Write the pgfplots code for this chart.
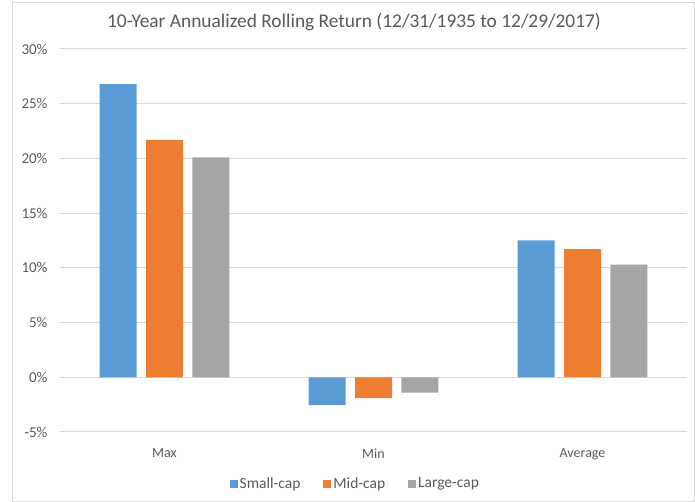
\documentclass[border=0pt]{standalone}
\usepackage{pgfplots}
\pgfplotsset{compat=1.18}
\usepackage{fontspec}
\setmainfont{Carlito}
\definecolor{cblue}{HTML}{5B9BD5}
\definecolor{corange}{HTML}{ED7D31}
\definecolor{cgray}{HTML}{A5A5A5}
\definecolor{txt}{HTML}{595959}
\definecolor{gridc}{HTML}{D9D9D9}
\begin{document}
\begin{tikzpicture}[x=1pt,y=1pt]
\path[use as bounding box] (0,0) rectangle (695,502);
\draw[gridc, line width=0.8pt] (12,1) rectangle (694,500);
\node[text=txt, font=\fontsize{19.4}{23}\selectfont] at (354,480) {10-Year Annualized Rolling Return (12/31/1935 to 12/29/2017)};
\begin{axis}[at={(60pt,70pt)}, anchor=south west, scale only axis,
  width=627pt, height=383pt,
  xmin=-0.5, xmax=2.5, ymin=-5, ymax=30,
  ytick={-5,0,5,10,15,20,25,30},
  yticklabel={\pgfmathprintnumber{\tick}\%},
  /pgf/number format/assume math mode=true,
  xtick={0,1,2}, xticklabels={Max,Min,Average},
  axis line style={draw=none}, tick style={draw=none},
  ymajorgrids, grid style={gridc, line width=1pt},
  ticklabel style={text=txt},
  yticklabel style={xshift=-9pt, font=\fontsize{15}{17}\selectfont},
  xticklabel style={yshift=-13pt, font=\fontsize{14}{16}\selectfont},
  legend style={at={(0.471,-0.135)}, anchor=center, draw=none, fill=none,
    font=\fontsize{15.5}{18}\selectfont, text=txt, legend columns=3,
    /tikz/every even column/.append style={column sep=21pt}},
  legend image code/.code={\fill[#1] (0pt,-4pt) rectangle (8pt,4pt);},
]
\addplot[ybar, bar width=0.177, bar shift=-0.222, fill=cblue, draw=none] coordinates {(0,26.8) (1,-2.55) (2,12.5)};
\addplot[ybar, bar width=0.177, bar shift=0, fill=corange, draw=none] coordinates {(0,21.7) (1,-1.9) (2,11.7)};
\addplot[ybar, bar width=0.177, bar shift=0.222, fill=cgray, draw=none] coordinates {(0,20.1) (1,-1.4) (2,10.3)};
\legend{Small-cap, Mid-cap, Large-cap}
\end{axis}
\end{tikzpicture}
\end{document}
